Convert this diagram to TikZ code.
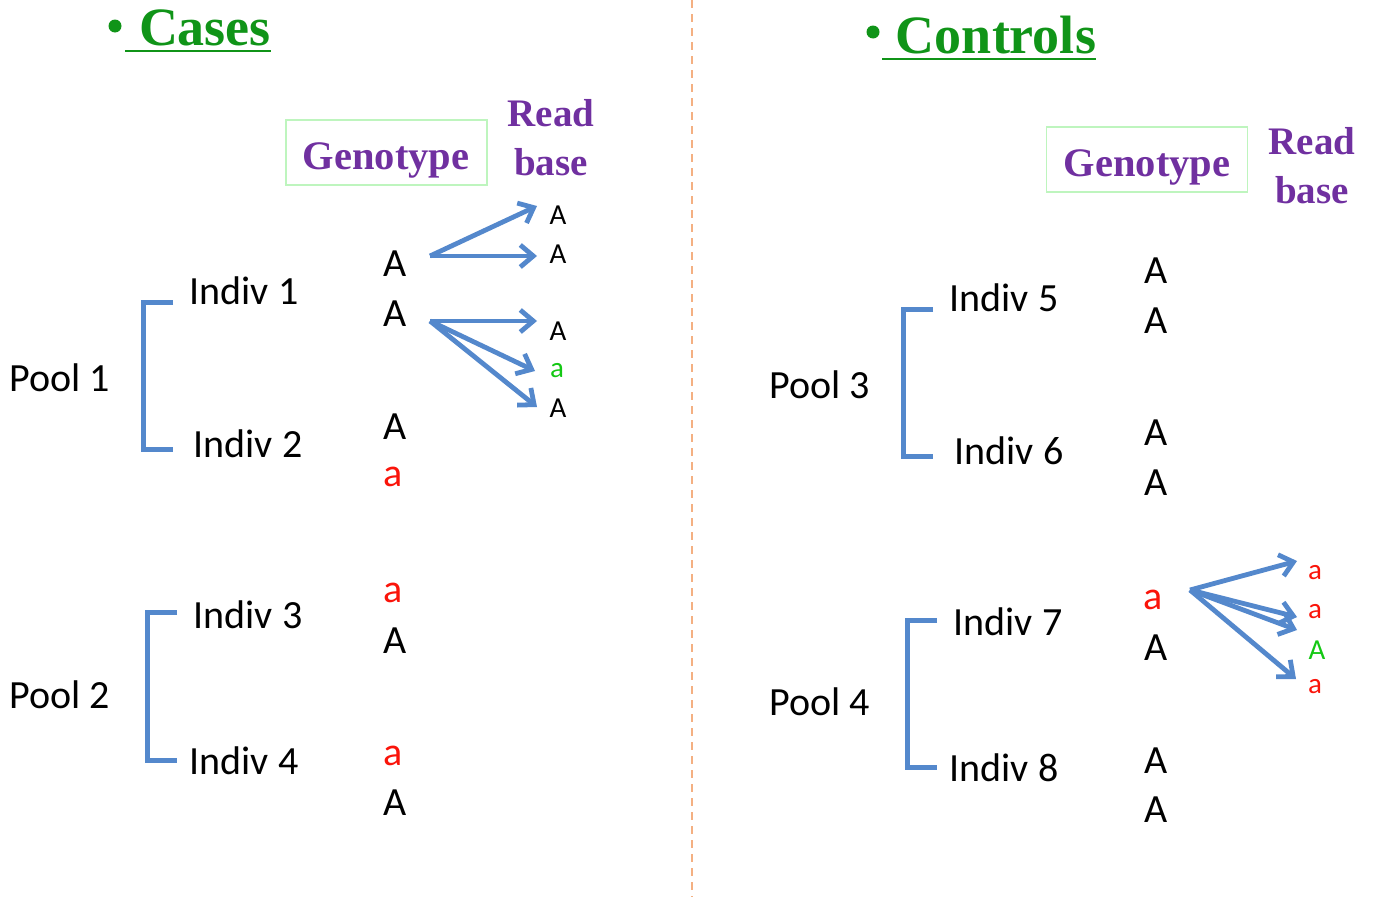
\documentclass[tikz,border=0pt]{standalone}
\usepackage{fontspec}
\setmainfont{Carlito}
\newfontfamily\headfont{Liberation Serif}
\usetikzlibrary{arrows.meta}
\definecolor{headgreen}{RGB}{16,148,24}
\definecolor{purp}{RGB}{112,48,160}
\definecolor{arrowblue}{RGB}{84,136,204}
\definecolor{boxgreen}{RGB}{190,245,190}
\definecolor{redA}{RGB}{250,20,10}
\definecolor{greenA}{RGB}{20,200,20}
\definecolor{divider}{RGB}{244,176,130}
\tikzset{
  heading/.style={font=\headfont\bfseries\fontsize{54}{62}\selectfont, text=headgreen, inner sep=0pt},
  headdot/.style={circle, fill=headgreen, minimum size=13pt, inner sep=0pt},
  colhead/.style={font=\headfont\bfseries\fontsize{39}{46}\selectfont, text=purp, inner sep=0pt},
  genohead/.style={colhead, font=\headfont\bfseries\fontsize{40.5}{46}\selectfont},
  genobox/.style={draw=boxgreen, line width=1.2pt, minimum width=201pt, minimum height=65pt},
  label/.style={font=\fontsize{40}{48}\selectfont, inner sep=0pt},
  geno/.style={font=\fontsize{40}{48}\selectfont, inner sep=0pt},
  readb/.style={font=\fontsize{29}{34}\selectfont, inner sep=0pt},
  bracketline/.style={draw=arrowblue, line width=5pt},
  readarrow/.style={draw=arrowblue, line width=4.8pt, -{Straight Barb[length=13pt,width=22pt]}},
}
\begin{document}
\begin{tikzpicture}[x=1pt,y=-1pt]
\useasboundingbox (0,0) rectangle (1376,897);

% dividing line
\coordinate (dtop) at (692,0);
\coordinate (dbot) at (692,897);
\draw[divider, line width=2pt, dash pattern=on 8pt off 6pt] (dtop) -- (dbot);

% ---------- Cases ----------
\node[headdot] (bulA) at (115,26) {};
\node[heading] (cases) at (205,28) {Cases};
\coordinate (ulA1) at (125,51);
\coordinate (ulA2) at (271,51);
\draw[headgreen, line width=2pt] (ulA1) -- (ulA2);

\node[genobox] (gboxA) at (386.5,152.5) {};
\node[genohead] (genoA) at (386,160) {Genotype};
\node[colhead] (readA) at (551,113) {Read};
\node[colhead] (baseA) at (551,162) {base};

% Pool 1
\node[label] (pool1) at (60,378) {Pool 1};
\coordinate (b1a) at (173,302);
\coordinate (b1b) at (143,302);
\coordinate (b1c) at (143,449);
\coordinate (b1d) at (173,449);
\draw[bracketline] (b1a) -- (b1b) -- (b1c) -- (b1d);
\node[label] (ind1) at (244,291) {Indiv 1};
\node[label] (ind2) at (248,444) {Indiv 2};
\node[geno] (g1a) at (395,264) {A};
\node[geno] (g1b) at (395,314) {A};
\node[geno] (g2a) at (395,427) {A};
\node[geno, text=redA] (g2b) at (393,477) {a};

\node[readb] (r1) at (558,215) {A};
\node[readb] (r2) at (558,254) {A};
\node[readb] (r3) at (558,331) {A};
\node[readb, text=greenA] (r4) at (557,371) {a};
\node[readb] (r5) at (558,408) {A};
\coordinate (s1) at (430,256);
\coordinate (s2) at (430,321);
\coordinate (t1) at (537,206);
\coordinate (t2) at (537,256);
\coordinate (t3) at (537,321);
\coordinate (t4) at (535,371);
\coordinate (t5) at (537,407);
\draw[readarrow] (s1) -- (t1);
\draw[readarrow] (s1) -- (t2);
\draw[readarrow] (s2) -- (t3);
\draw[readarrow] (s2) -- (t4);
\draw[readarrow] (s2) -- (t5);

% Pool 2
\node[label] (pool2) at (60,695) {Pool 2};
\coordinate (b2a) at (177,612);
\coordinate (b2b) at (147,612);
\coordinate (b2c) at (147,760);
\coordinate (b2d) at (177,760);
\draw[bracketline] (b2a) -- (b2b) -- (b2c) -- (b2d);
\node[label] (ind3) at (248,615) {Indiv 3};
\node[label] (ind4) at (244,761) {Indiv 4};
\node[geno, text=redA] (g3a) at (393,593) {a};
\node[geno] (g3b) at (395,641) {A};
\node[geno, text=redA] (g4a) at (393,756) {a};
\node[geno] (g4b) at (395,803) {A};

% ---------- Controls ----------
\node[headdot] (bulB) at (873,32) {};
\node[heading] (controls) at (996,35) {Controls};
\coordinate (ulB1) at (882,59);
\coordinate (ulB2) at (1096,59);
\draw[headgreen, line width=2pt] (ulB1) -- (ulB2);

\node[genobox] (gboxB) at (1147,159.5) {};
\node[genohead] (genoB) at (1147,167) {Genotype};
\node[colhead] (readB) at (1312,141) {Read};
\node[colhead] (baseB) at (1312,190) {base};

% Pool 3
\node[label] (pool3) at (820,385) {Pool 3};
\coordinate (b3a) at (933,309);
\coordinate (b3b) at (903,309);
\coordinate (b3c) at (903,456);
\coordinate (b3d) at (933,456);
\draw[bracketline] (b3a) -- (b3b) -- (b3c) -- (b3d);
\node[label] (ind5) at (1004,298) {Indiv 5};
\node[label] (ind6) at (1009,451) {Indiv 6};
\node[geno] (g5a) at (1156,271) {A};
\node[geno] (g5b) at (1156,321) {A};
\node[geno] (g6a) at (1156,433) {A};
\node[geno] (g6b) at (1156,483) {A};

% Pool 4
\node[label] (pool4) at (820,702) {Pool 4};
\coordinate (b4a) at (937,620);
\coordinate (b4b) at (907,620);
\coordinate (b4c) at (907,767);
\coordinate (b4d) at (937,767);
\draw[bracketline] (b4a) -- (b4b) -- (b4c) -- (b4d);
\node[label] (ind7) at (1008,622) {Indiv 7};
\node[label] (ind8) at (1004,768) {Indiv 8};
\node[geno, text=redA] (g7a) at (1153,600) {a};
\node[geno] (g7b) at (1156,648) {A};
\node[geno] (g8a) at (1156,761) {A};
\node[geno] (g8b) at (1156,810) {A};

\node[readb, text=redA] (r6) at (1315,573) {a};
\node[readb, text=redA] (r7) at (1315,612) {a};
\node[readb, text=greenA] (r8) at (1317,650) {A};
\node[readb, text=redA] (r9) at (1315,687) {a};
\coordinate (s3) at (1190,590);
\coordinate (t6) at (1297,561);
\coordinate (t7) at (1297,617);
\coordinate (t8) at (1297,630);
\coordinate (t9) at (1296,679);
\draw[readarrow] (s3) -- (t6);
\draw[readarrow] (s3) -- (t7);
\draw[readarrow] (s3) -- (t8);
\draw[readarrow] (s3) -- (t9);
\end{tikzpicture}
\end{document}
